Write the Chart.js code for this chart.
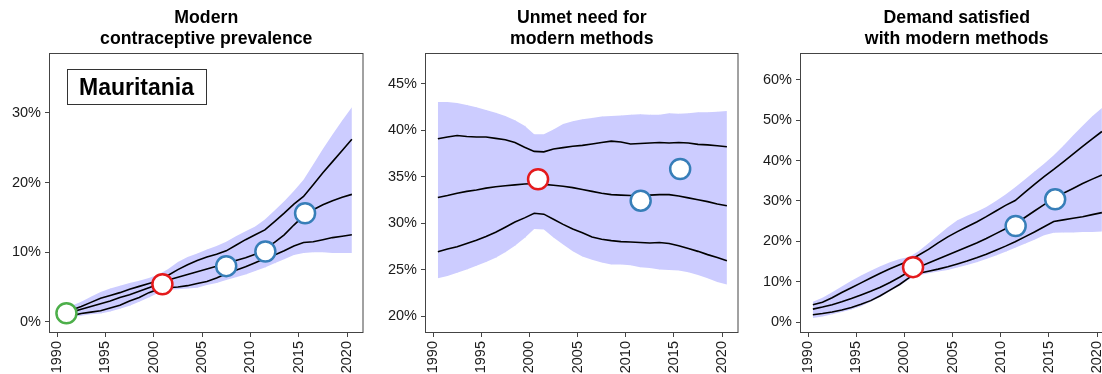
<!DOCTYPE html>
<html>
<head>
<meta charset="utf-8">
<script src="https://cdn.jsdelivr.net/npm/chart.js@4.4.1/dist/chart.umd.min.js"></script>
<style>
  html, body { margin: 0; padding: 0; background: #fff; overflow: hidden; }
  #wrap { position: relative; width: 1102px; height: 374px; overflow: hidden; }
  #wrap canvas { position: absolute; top: 0; }
</style>
</head>
<body>
<div id="wrap">
  <canvas id="cp" width="375" height="374" style="left:0px"></canvas>
  <canvas id="unmet" width="375" height="374" style="left:375px"></canvas>
  <canvas id="demand" width="375" height="374" style="left:750px"></canvas>
</div>
<script>
// estimate years (mid-year)
const years = [1990.5, 1991.5, 1992.5, 1993.5, 1994.5, 1995.5, 1996.5, 1997.5, 1998.5, 1999.5,
  2000.5, 2001.5, 2002.5, 2003.5, 2004.5, 2005.5, 2006.5, 2007.5, 2008.5, 2009.5,
  2010.5, 2011.5, 2012.5, 2013.5, 2014.5, 2015.5, 2016.5, 2017.5, 2018.5, 2019.5, 2020.5];
const yearTicks = [1990, 1995, 2000, 2005, 2010, 2015, 2020];

// modern contraceptive prevalence (%)
const cpMedian = [1.1, 1.4, 1.8, 2.2, 2.6, 3.0, 3.5, 3.9, 4.4, 4.9, 5.4, 6.0, 6.4, 6.8, 7.2, 7.6, 8.0, 8.3, 8.8, 9.2, 9.7, 10.5, 11.4, 12.5, 13.9, 15.2, 16.1, 16.8, 17.4, 17.9, 18.3];
const cpLo80 = [0.8, 0.9, 1.2, 1.4, 1.6, 2.0, 2.4, 3.0, 3.5, 4.2, 4.7, 4.9, 5.0, 5.2, 5.5, 5.8, 6.3, 6.9, 7.4, 7.9, 8.5, 9.1, 9.6, 10.2, 10.9, 11.4, 11.5, 11.8, 12.1, 12.3, 12.5];
const cpHi80 = [1.4, 1.7, 2.2, 2.8, 3.4, 3.8, 4.2, 4.7, 5.1, 5.5, 5.9, 6.7, 7.5, 8.2, 8.8, 9.3, 9.7, 10.2, 11.0, 11.8, 12.5, 13.2, 14.4, 15.6, 16.9, 18.0, 19.7, 21.4, 23.0, 24.6, 26.2];
const cpLo95 = [0.5, 0.7, 0.9, 1.1, 1.2, 1.5, 1.9, 2.3, 2.9, 3.5, 4.2, 4.6, 4.7, 4.8, 4.9, 5.3, 5.6, 6.0, 6.4, 6.8, 7.3, 7.8, 8.4, 9.0, 9.6, 9.9, 10.0, 10.0, 9.9, 9.9, 9.9];
const cpHi95 = [1.8, 2.3, 2.9, 3.6, 4.3, 4.8, 5.2, 5.6, 5.9, 6.3, 6.8, 7.6, 8.6, 9.3, 9.8, 10.4, 10.9, 11.5, 12.3, 13.0, 13.7, 14.7, 16.0, 17.3, 18.8, 20.4, 22.6, 24.8, 26.9, 28.9, 30.8];
const cpSurveyYear = [1990.97, 2000.9, 2007.5, 2011.55, 2015.66];
const cpSurveyValue = [1.25, 5.4, 8.0, 10.1, 15.6];
const cpSurveyColor = ['#4daf4a', '#e41a1c', '#377eb8', '#377eb8', '#377eb8'];
const cpTicks = [0, 10, 20, 30];

// unmet need for modern methods (%)
const unMedian = [32.8, 33.0, 33.25, 33.45, 33.6, 33.8, 33.95, 34.05, 34.15, 34.25, 34.3, 34.2, 34.1, 34.0, 33.85, 33.65, 33.45, 33.25, 33.1, 33.05, 33.0, 33.0, 33.05, 33.1, 33.1, 32.95, 32.75, 32.55, 32.35, 32.1, 31.9];
const unLo80 = [26.95, 27.25, 27.5, 27.85, 28.2, 28.6, 29.05, 29.6, 30.15, 30.6, 31.1, 31.0, 30.45, 29.9, 29.4, 29.0, 28.55, 28.3, 28.15, 28.05, 28.0, 27.95, 27.9, 27.95, 27.85, 27.6, 27.3, 27.0, 26.65, 26.35, 26.0];
const unHi80 = [39.1, 39.3, 39.45, 39.35, 39.3, 39.3, 39.15, 39.0, 38.7, 38.2, 37.75, 37.7, 38.0, 38.15, 38.3, 38.4, 38.55, 38.7, 38.85, 38.75, 38.55, 38.6, 38.65, 38.7, 38.65, 38.7, 38.65, 38.5, 38.45, 38.35, 38.25];
const unLo95 = [24.1, 24.35, 24.7, 25.05, 25.45, 25.85, 26.3, 26.9, 27.6, 28.45, 29.4, 29.35, 28.5, 27.75, 27.0, 26.45, 26.1, 25.8, 25.6, 25.6, 25.5, 25.3, 25.2, 25.05, 25.0, 24.95, 24.75, 24.45, 24.1, 23.7, 23.45];
const unHi95 = [43.05, 43.05, 42.95, 42.75, 42.5, 42.2, 41.9, 41.55, 41.1, 40.5, 39.6, 39.6, 40.1, 40.7, 41.0, 41.2, 41.35, 41.5, 41.55, 41.6, 41.7, 41.75, 41.7, 41.7, 41.85, 41.8, 41.85, 41.95, 41.95, 42.0, 42.1];
const unSurveyYear = [2000.9, 2011.55, 2015.65];
const unSurveyValue = [34.75, 32.45, 35.85];
const unSurveyColor = ['#e41a1c', '#377eb8', '#377eb8'];
const unTicks = [20, 25, 30, 35, 40, 45];

// demand satisfied with modern methods (%)
const dsMedian = [3.2, 3.7, 4.3, 5.0, 5.8, 6.7, 7.6, 8.6, 9.8, 11.1, 12.5, 13.6, 14.6, 15.6, 16.6, 17.6, 18.6, 19.6, 20.7, 21.9, 23.1, 24.3, 25.9, 27.5, 29.1, 30.6, 31.9, 33.1, 34.3, 35.4, 36.4];
const dsLo80 = [1.8, 2.1, 2.5, 3.0, 3.6, 4.4, 5.3, 6.5, 7.9, 9.3, 11.0, 12.1, 12.6, 13.1, 13.7, 14.4, 15.1, 15.9, 16.8, 17.8, 18.8, 19.9, 21.1, 22.3, 23.6, 24.9, 25.3, 25.7, 26.1, 26.6, 27.1];
const dsHi80 = [4.3, 4.9, 6.0, 7.3, 8.5, 9.7, 10.9, 12.1, 13.2, 14.2, 15.2, 16.6, 18.0, 19.6, 21.1, 22.4, 23.6, 24.8, 26.1, 27.5, 28.9, 30.1, 32.1, 34.1, 36.0, 37.8, 39.7, 41.6, 43.5, 45.4, 47.2];
const dsLo95 = [1.0, 1.4, 1.9, 2.5, 3.1, 3.9, 5.0, 6.2, 7.6, 9.0, 10.6, 11.6, 12.1, 12.5, 12.9, 13.5, 14.1, 14.8, 15.6, 16.5, 17.4, 18.4, 19.4, 20.4, 21.5, 22.1, 22.2, 22.2, 22.3, 22.3, 22.4];
const dsHi95 = [5.0, 6.0, 7.4, 8.8, 10.2, 11.5, 12.7, 13.8, 14.8, 15.6, 16.1, 17.6, 19.5, 21.5, 23.5, 25.2, 26.3, 27.3, 28.5, 30.0, 31.6, 33.4, 35.3, 37.3, 39.2, 41.3, 43.7, 46.2, 48.6, 51.0, 53.0];
const dsSurveyYear = [2000.9, 2011.55, 2015.65];
const dsSurveyValue = [13.6, 23.8, 30.4];
const dsSurveyColor = ['#e41a1c', '#377eb8', '#377eb8'];
const dsTicks = [0, 10, 20, 30, 40, 50, 60];

const FONT = '"Liberation Sans", Arial, Helvetica, sans-serif';
Chart.defaults.font.family = FONT;
Chart.defaults.animation = false;

const pts = arr => arr.map((v, i) => ({ x: years[i], y: v }));

// box, stacked title and optional country tag
const frame = {
  id: 'frame',
  afterDatasetDraw(chart, args, opts) {
    // faint yearly seams inside the uncertainty band
    if (args.index !== 4) return;
    const { ctx, scales: { x, y } } = chart;
    const hi = chart.data.datasets[3].data, lo = chart.data.datasets[4].data;
    ctx.save();
    ctx.strokeStyle = 'rgba(150,150,225,0.18)';
    ctx.lineWidth = 1;
    for (let i = 1; i < hi.length - 1; i++) {
      const px = Math.round(x.getPixelForValue(hi[i].x)) + 0.5;
      ctx.beginPath();
      ctx.moveTo(px, y.getPixelForValue(hi[i].y));
      ctx.lineTo(px, y.getPixelForValue(lo[i].y));
      ctx.stroke();
    }
    ctx.restore();
  },
  afterDraw(chart, args, opts) {
    const { ctx, chartArea: a } = chart;
    ctx.save();
    ctx.strokeStyle = '#444';
    ctx.lineWidth = 1;
    ctx.strokeRect(a.left - 0.5, a.top - 0.5, a.right - a.left + 1, a.bottom - a.top + 1);
    ctx.fillStyle = '#000';
    ctx.font = 'bold 17.7px ' + FONT;
    ctx.textAlign = 'center';
    ctx.textBaseline = 'alphabetic';
    const cx = (a.left + a.right) / 2;
    opts.title.forEach((line, k) => ctx.fillText(line, cx, 22.5 + k * 21.5));
    if (opts.tag) {
      const bx = a.left + 17, by = a.top + 15;
      ctx.font = 'bold 23px ' + FONT;
      ctx.textAlign = 'center';
      ctx.fillText(opts.tag, bx + 69.5, by + 25.5);
      ctx.strokeStyle = '#333';
      ctx.strokeRect(bx + 0.5, by + 0.5, 139, 35);
    }
    ctx.restore();
  }
};

function panel(id, p) {
  const datasets = [
    {
      data: p.obsYear.map((x, i) => ({ x, y: p.obsValue[i] })),
      showLine: false, order: 0,
      pointRadius: 10, pointBorderWidth: 2.5,
      pointBackgroundColor: '#fff', pointBorderColor: p.obsColor
    },
    { data: pts(p.hi80), borderColor: '#000', borderWidth: 1.6, pointRadius: 0, order: 1 },
    { data: pts(p.median), borderColor: '#000', borderWidth: 1.6, pointRadius: 0, order: 1 },
    { data: pts(p.hi95), borderWidth: 0, pointRadius: 0, fill: 4, backgroundColor: '#ccccff', order: 2 },
    { data: pts(p.lo95), borderWidth: 0, pointRadius: 0, fill: false, order: 3 },
    { data: pts(p.lo80), borderColor: '#000', borderWidth: 1.6, pointRadius: 0, order: 1 }
  ];
  return new Chart(document.getElementById(id), {
    type: 'line',
    data: { datasets },
    options: {
      responsive: false,
      layout: { padding: { top: 54, right: 12, left: 0, bottom: 0 } },
      plugins: { legend: { display: false }, tooltip: { enabled: false }, frame: { title: p.title, tag: p.tag } },
      scales: {
        x: {
          type: 'linear', min: 1989.27, max: 2021.6,
          afterBuildTicks: s => { s.ticks = yearTicks.map(v => ({ value: v })); },
          afterFit: s => { s.height = 42; },
          grid: { drawOnChartArea: false, tickLength: 5, tickColor: '#444' },
          border: { display: false },
          ticks: { autoSkip: false, minRotation: 90, maxRotation: 90, padding: 4, color: '#1a1a1a', font: { size: 14.5 }, callback: v => String(v) }
        },
        y: {
          type: 'linear', min: p.yMin, max: p.yMax,
          afterBuildTicks: s => { s.ticks = p.ticks.map(v => ({ value: v })); },
          afterFit: s => { s.width = p.axisW; },
          grid: { drawOnChartArea: false, tickLength: 5, tickColor: '#444' },
          border: { display: false },
          ticks: { padding: 4, color: '#1a1a1a', font: { size: 14.5 }, callback: v => v + '%' }
        }
      }
    },
    plugins: [frame]
  });
}

panel('cp', {
  title: ['Modern', 'contraceptive prevalence'], tag: 'Mauritania',
  median: cpMedian, lo80: cpLo80, hi80: cpHi80, lo95: cpLo95, hi95: cpHi95,
  obsYear: cpSurveyYear, obsValue: cpSurveyValue, obsColor: cpSurveyColor,
  ticks: cpTicks, yMin: -1.45, yMax: 38.45, axisW: 50
});
panel('unmet', {
  title: ['Unmet need for', 'modern methods'],
  median: unMedian, lo80: unLo80, hi80: unHi80, lo95: unLo95, hi95: unHi95,
  obsYear: unSurveyYear, obsValue: unSurveyValue, obsColor: unSurveyColor,
  ticks: unTicks, yMin: 18.33, yMax: 48.22, axisW: 51
});
panel('demand', {
  title: ['Demand satisfied', 'with modern methods'],
  median: dsMedian, lo80: dsLo80, hi80: dsHi80, lo95: dsLo95, hi95: dsHi95,
  obsYear: dsSurveyYear, obsValue: dsSurveyValue, obsColor: dsSurveyColor,
  ticks: dsTicks, yMin: -2.47, yMax: 66.4, axisW: 51
});
</script>
</body>
</html>
